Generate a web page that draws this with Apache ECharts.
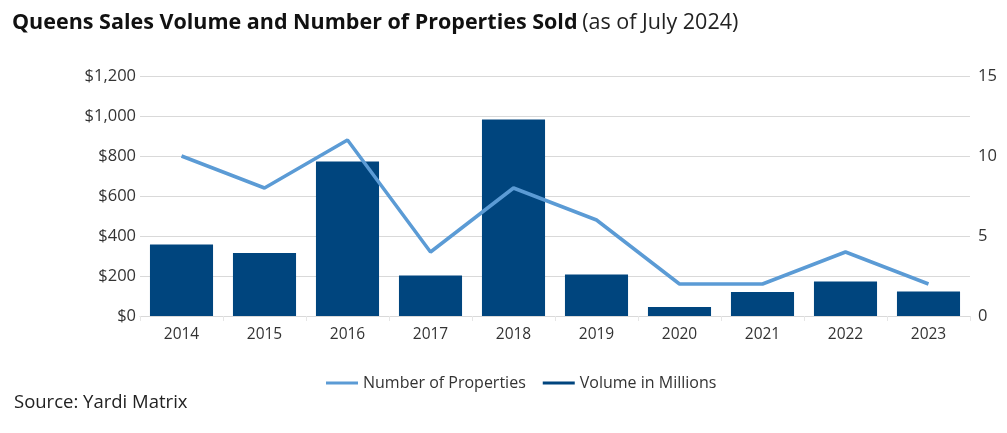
<!DOCTYPE html>
<html><head><meta charset="utf-8">
<script src="https://cdn.jsdelivr.net/npm/echarts@6/dist/echarts.min.js"></script>
<style>html,body{margin:0;padding:0;background:#fff;}#c{width:1007px;height:433px;}</style>
</head><body><div id="c"></div>
<script>
const years = ['2014','2015','2016','2017','2018','2019','2020','2021','2022','2023'];
const volumeMillions = [358, 315, 773, 202, 983, 208, 45, 120, 172, 123];
const numProperties = [10, 8, 11, 4, 8, 6, 2, 2, 4, 2];
const leftTicks = {min: 0, max: 1200, interval: 200};
const rightTicks = {min: 0, max: 15, interval: 5};

const chart = echarts.init(document.getElementById('c'));
const font = '"Open Sans", "Noto Sans", sans-serif';
chart.setOption({
  animation: false,
  textStyle: {fontFamily: font},
  title: {
    text: '{b|Queens Sales Volume and Number of Properties Sold} {n|(as of July 2024)}',
    left: 7, top: 7,
    textStyle: {
      rich: {
        b: {fontFamily: font, fontWeight: 'bold', fontSize: 21.5, color: '#111'},
        n: {fontFamily: font, fontWeight: 'normal', fontSize: 21.5, color: '#222'}
      }
    }
  },
  graphic: [{
    type: 'text', left: 14, top: 393,
    style: {text: 'Source: Yardi Matrix', font: '18.5px ' + font, fill: '#222'}
  }],
  legend: {
    bottom: 37, left: 321,
    itemWidth: 32, itemHeight: 3, itemGap: 17,
    textStyle: {fontSize: 16, color: '#333', fontFamily: font},
    data: [
      {name: 'Number of Properties', icon: 'rect'},
      {name: 'Volume in Millions', icon: 'rect'}
    ]
  },
  grid: {left: 140, right: 37, top: 76, bottom: 117, containLabel: false},
  xAxis: {
    type: 'category', data: years,
    axisLine: {lineStyle: {color: '#d9d9d9'}},
    axisTick: {show: true, alignWithLabel: false, length: 5, lineStyle: {color: '#e6e6e6'}},
    axisLabel: {fontSize: 15.5, color: '#333', margin: 11}
  },
  yAxis: [{
    type: 'value', min: leftTicks.min, max: leftTicks.max, interval: leftTicks.interval,
    axisLine: {show: false}, axisTick: {show: false},
    splitLine: {lineStyle: {color: '#d9d9d9', width: 1}},
    axisLabel: {fontSize: 16.5, color: '#333', margin: 4,
      formatter: v => '$' + v.toLocaleString('en-US')}
  }, {
    type: 'value', min: rightTicks.min, max: rightTicks.max, interval: rightTicks.interval,
    axisLine: {show: false}, axisTick: {show: false}, splitLine: {show: false},
    axisLabel: {fontSize: 16.5, color: '#333', margin: 8}
  }],
  series: [{
    name: 'Volume in Millions', type: 'bar', yAxisIndex: 0,
    data: volumeMillions, barCategoryGap: '24%',
    itemStyle: {color: '#00457e'}
  }, {
    name: 'Number of Properties', type: 'line', yAxisIndex: 1,
    data: numProperties, symbol: 'none',
    lineStyle: {color: '#5b9bd5', width: 3.5},
    itemStyle: {color: '#5b9bd5'}
  }]
});
</script></body></html>
